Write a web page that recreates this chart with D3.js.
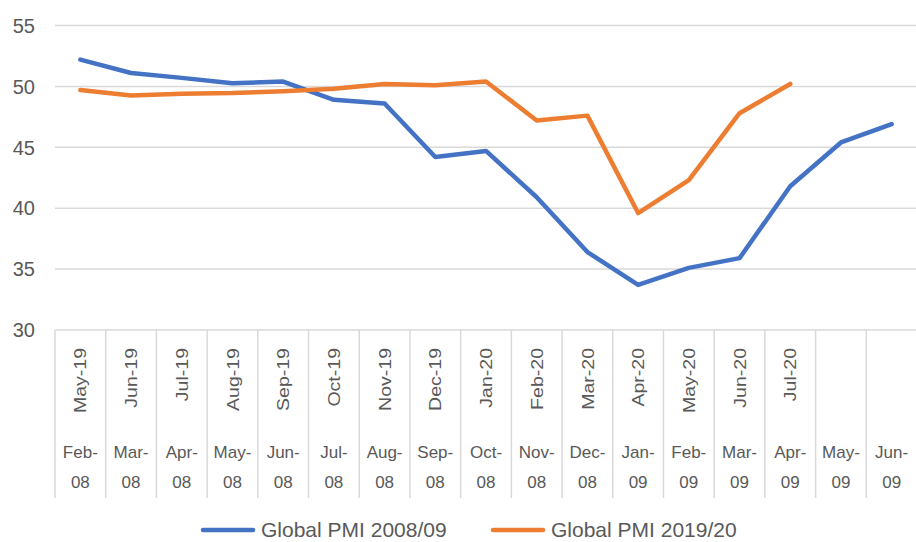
<!DOCTYPE html>
<html>
<head>
<meta charset="utf-8">
<script src="https://cdn.jsdelivr.net/npm/d3@7"></script>
<style>
  body { margin: 0; background: #fff; }
  svg text { font-family: "Liberation Sans", Arial, sans-serif; fill: #595959; }
</style>
</head>
<body>
<div id="chart"></div>
<script>
// category labels (outer row = 2008/09 months, inner row = 2019/20 months)
const months0809 = ['Feb-08', 'Mar-08', 'Apr-08', 'May-08', 'Jun-08', 'Jul-08', 'Aug-08', 'Sep-08',
  'Oct-08', 'Nov-08', 'Dec-08', 'Jan-09', 'Feb-09', 'Mar-09', 'Apr-09', 'May-09', 'Jun-09'];
const months1920 = ['May-19', 'Jun-19', 'Jul-19', 'Aug-19', 'Sep-19', 'Oct-19', 'Nov-19', 'Dec-19',
  'Jan-20', 'Feb-20', 'Mar-20', 'Apr-20', 'May-20', 'Jun-20', 'Jul-20'];

// series values
const pmi0809 = [52.2, 51.1, 50.7, 50.25, 50.4, 48.9, 48.6, 44.2, 44.7, 40.9, 36.4, 33.7, 35.1, 35.9, 41.8, 45.4, 46.9];
const pmi1920 = [49.7, 49.25, 49.4, 49.45, 49.6, 49.8, 50.2, 50.1, 50.4, 47.2, 47.6, 39.6, 42.3, 47.8, 50.2];

const yTicks = [30, 35, 40, 45, 50, 55];

const seriesNames = ['Global PMI 2008/09', 'Global PMI 2019/20'];
const colors = ['#4472C4', '#ED7D31'];

const width = 916, height = 542;
const plotLeft = 55, plotRight = 917, plotTop = 25.5, plotBottom = 330;

const svg = d3.select('#chart').append('svg')
  .attr('width', width)
  .attr('height', height);

// scales
const x = d3.scaleBand()
  .domain(d3.range(months0809.length))
  .range([plotLeft, plotRight]);

const y = d3.scaleLinear()
  .domain([30, 55])
  .range([plotBottom, plotTop]);

// horizontal gridlines
svg.append('g')
  .selectAll('line')
  .data(yTicks)
  .enter().append('line')
  .attr('x1', plotLeft)
  .attr('x2', plotRight)
  .attr('y1', d => y(d))
  .attr('y2', d => y(d))
  .attr('stroke', '#d9d9d9')
  .attr('stroke-width', 1.5);

// y-axis labels
svg.append('g')
  .selectAll('text')
  .data(yTicks)
  .enter().append('text')
  .attr('x', 35)
  .attr('y', d => y(d))
  .attr('text-anchor', 'end')
  .attr('dy', '0.36em')
  .style('font-size', '20px')
  .text(d => d);

// category separators (multi-level axis)
const bounds = d3.range(months0809.length + 1).map(i => plotLeft + i * x.bandwidth());
svg.append('g')
  .selectAll('line')
  .data(bounds)
  .enter().append('line')
  .attr('x1', d => d)
  .attr('x2', d => d)
  .attr('y1', plotBottom)
  .attr('y2', 498)
  .attr('stroke', '#d9d9d9')
  .attr('stroke-width', 1.5);

// inner row: rotated 2019/20 labels
svg.append('g')
  .selectAll('text')
  .data(months1920)
  .enter().append('text')
  .attr('transform', (d, i) => `translate(${x(i) + x.bandwidth() / 2},348) rotate(-90) scale(1.15,1)`)
  .attr('text-anchor', 'end')
  .attr('dy', '0.36em')
  .style('font-size', '17px')
  .text(d => d);

// outer row: 2008/09 labels, split in two lines
const outer = svg.append('g')
  .selectAll('text')
  .data(months0809)
  .enter().append('text')
  .attr('text-anchor', 'middle')
  .style('font-size', '17px');

outer.append('tspan')
  .attr('x', (d, i) => x(i) + x.bandwidth() / 2)
  .attr('y', 458)
  .text(d => d.split('-')[0] + '-');

outer.append('tspan')
  .attr('x', (d, i) => x(i) + x.bandwidth() / 2)
  .attr('y', 488)
  .text(d => d.split('-')[1]);

// lines
const line = d3.line()
  .x((d, i) => x(i) + x.bandwidth() / 2)
  .y(d => y(d));

[pmi0809, pmi1920].forEach((series, k) => {
  svg.append('path')
    .datum(series)
    .attr('fill', 'none')
    .attr('stroke', colors[k])
    .attr('stroke-width', 4.5)
    .attr('stroke-linejoin', 'round')
    .attr('stroke-linecap', 'round')
    .attr('d', line);
});

// legend
const legendX = [203, 493];
const legend = svg.append('g')
  .selectAll('g')
  .data(seriesNames)
  .enter().append('g')
  .attr('transform', (d, i) => `translate(${legendX[i]},530)`);

legend.append('line')
  .attr('x1', 0)
  .attr('x2', 50)
  .attr('stroke', (d, i) => colors[i])
  .attr('stroke-width', 4.5)
  .attr('stroke-linecap', 'round');

legend.append('text')
  .attr('x', 58)
  .attr('y', 7)
  .style('font-size', '21px')
  .text(d => d);
</script>
</body>
</html>
